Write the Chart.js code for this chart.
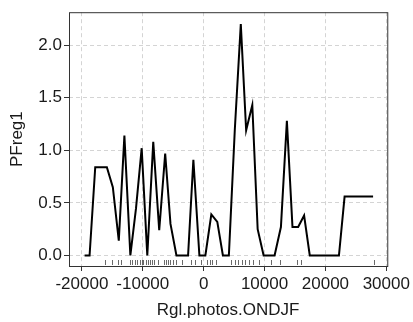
<!DOCTYPE html>
<html>
<head>
<meta charset="utf-8">
<script src="https://cdn.jsdelivr.net/npm/chart.js@4/dist/chart.umd.min.js"></script>
<style>
  html, body { margin: 0; padding: 0; background: #fff; }
  #wrap { width: 413px; height: 322px; }
</style>
</head>
<body>
<div id="wrap"><canvas id="pd"></canvas></div>
<script>
// ── Data ───────────────────────────────────────────────────────────────────
const pdX = [-19560, -18740, -17810, -15900, -14920, -13940, -13020, -12040, -11110, -10180,
             -9260, -8280, -7300, -6320, -5450, -4470, -2560, -1690, -700, 280,
             1260, 2240, 3160, 4140, 5120, 6100, 6980, 7990, 8870, 9850,
             11650, 12690, 13670, 14590, 15520, 16500, 17430, 22220, 23150, 27830];
const pdY = [0, 0, 0.84, 0.84, 0.65, 0.14, 1.14, 0, 0.45, 1.02,
             0, 1.08, 0.24, 0.97, 0.30, 0, 0, 0.91, 0, 0,
             0.39, 0.32, 0, 0, 1.2, 2.20, 1.19, 1.43, 0.25, 0,
             0, 0.27, 1.28, 0.27, 0.27, 0.38, 0, 0, 0.56, 0.56];

// rug: observed values of the predictor
const rugX = [-16180, -15080, -14100, -13560, -12140, -11720, -11270, -10900, -10510, -10180,
              -9970, -9530, -9150, -8820, -8450, -8120, -7470, -6590, -6260, -5930,
              -5600, -5070, -4620, -3550, -2120, -1470, -380, 600, 980, 1360,
              2010, 4530, 5070, 5720, 6320, 6860, 7470, 8120, 9150, 11060,
              12470, 15410, 16010, 27940];

const xTicks = [-20000, -10000, 0, 10000, 20000, 30000];
const yTicks = [0, 0.5, 1, 1.5, 2];

const FONT = { family: '"Liberation Sans", Arial, sans-serif', size: 17 };
const INK  = '#1a1a1a';
const GRID = { color: '#d4d4d4', tickColor: '#333', tickLength: 5, tickWidth: 1, tickBorderDash: [] };

// ── Plugins: panel frame + rug ─────────────────────────────────────────────
const framePlugin = {
  id: 'frame',
  afterDraw(chart) {
    const { ctx, chartArea: a } = chart;
    ctx.save();
    ctx.strokeStyle = '#333';
    ctx.lineWidth = 1;
    ctx.strokeRect(a.left + 0.5, a.top + 0.5, a.right - a.left, a.bottom - a.top);
    ctx.restore();
  },
};

const rugPlugin = {
  id: 'rug',
  afterDatasetsDraw(chart) {
    const { ctx, chartArea: a, scales: { x } } = chart;
    ctx.save();
    ctx.strokeStyle = '#444';
    ctx.lineWidth = 0.8;
    ctx.beginPath();
    rugX.forEach(v => {
      const px = Math.round(x.getPixelForValue(v)) + 0.5;
      ctx.moveTo(px, a.bottom - 6);
      ctx.lineTo(px, a.bottom - 1);
    });
    ctx.stroke();
    ctx.restore();
  },
};

// ── Chart ──────────────────────────────────────────────────────────────────
new Chart(document.getElementById('pd'), {
  type: 'line',
  data: {
    datasets: [{
      data: pdX.map((x, i) => ({ x, y: pdY[i] })),
      borderColor: '#000', borderWidth: 2,
      pointRadius: 0, tension: 0, fill: false,
    }],
  },
  options: {
    responsive: true, maintainAspectRatio: false, animation: false,
    layout: { padding: { top: 9, right: 23, bottom: 0, left: 0 } },
    plugins: { legend: { display: false }, tooltip: { enabled: false } },
    scales: {
      x: {
        type: 'linear', min: -22120, max: 30160,
        afterBuildTicks: s => { s.ticks = xTicks.map(v => ({ value: v })); },
        afterFit: s => { s.height = 56; },
        grid: GRID,
        border: { display: false, dash: [4, 3] },
        ticks: { color: INK, font: FONT, padding: 3, maxRotation: 0, callback: v => String(v) },
        title: { display: true, text: 'Rgl.photos.ONDJF', color: INK, font: FONT,
                 padding: { top: 0, bottom: 1 } },
      },
      y: {
        min: -0.1, max: 2.313,
        afterBuildTicks: s => { s.ticks = yTicks.map(v => ({ value: v })); },
        afterFit: s => { s.width = 69; },
        grid: GRID,
        border: { display: false, dash: [4, 3] },
        ticks: { color: INK, font: FONT, padding: 2, callback: v => v.toFixed(1) },
        title: { display: true, text: 'PFreg1', color: INK, font: FONT,
                 padding: { top: 7, bottom: 0 } },
      },
    },
  },
  plugins: [framePlugin, rugPlugin],
});
</script>
</body>
</html>
